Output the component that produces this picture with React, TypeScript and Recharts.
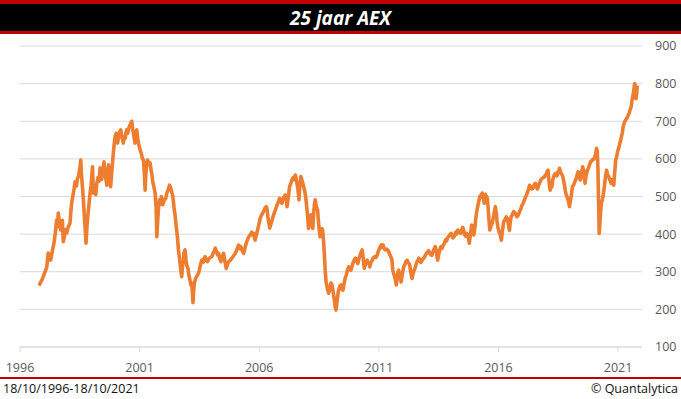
import React from "react";
import { LineChart, Line, XAxis, YAxis, CartesianGrid } from "recharts";

const FONT = "'Open Sans', 'Noto Sans', sans-serif";
const RED = "#c00000";
const ORANGE = "#ed7d31";
const GRID = "#d9d9d9";

const YEAR_TICKS = [1996, 2001, 2006, 2011, 2016, 2021];
const VALUE_TICKS = [100, 200, 300, 400, 500, 600, 700, 800, 900];

// AEX closes (year as decimal, index value)
const aex1996: [number, number][] = [
  [1996.8, 263], [1996.86, 272], [1996.93, 280], [1996.97, 287], [1997.05, 300], [1997.12, 313],
  [1997.18, 350], [1997.23, 338], [1997.28, 331], [1997.35, 355], [1997.42, 376], [1997.48, 405],
  [1997.53, 437], [1997.57, 420], [1997.6, 456], [1997.65, 430], [1997.7, 411], [1997.74, 425],
  [1997.77, 437], [1997.81, 380], [1997.86, 395], [1997.9, 412], [1997.95, 403], [1998.02, 420],
  [1998.09, 429], [1998.12, 455], [1998.16, 483], [1998.22, 505], [1998.26, 520], [1998.3, 539],
  [1998.36, 528], [1998.4, 548], [1998.44, 553], [1998.49, 570], [1998.54, 597], [1998.57, 560],
  [1998.62, 517], [1998.66, 480], [1998.69, 446], [1998.73, 410], [1998.76, 376], [1998.8, 420],
  [1998.83, 445], [1998.86, 464], [1998.9, 490], [1998.93, 509], [1998.97, 530], [1999.03, 579],
  [1999.05, 540], [1999.07, 509], [1999.12, 520], [1999.17, 505], [1999.21, 535], [1999.26, 550],
  [1999.3, 540], [1999.35, 576], [1999.38, 560], [1999.41, 545], [1999.46, 565], [1999.51, 592],
  [1999.55, 560], [1999.59, 548], [1999.63, 530], [1999.66, 560], [1999.7, 584], [1999.74, 550],
  [1999.79, 526], [1999.83, 560], [1999.87, 590], [1999.9, 615], [1999.94, 640], [1999.98, 660],
];

const aex2000: [number, number][] = [
  [2000.02, 668], [2000.05, 650], [2000.08, 642], [2000.12, 660], [2000.17, 672], [2000.21, 677],
  [2000.25, 660], [2000.29, 650], [2000.32, 642], [2000.36, 660], [2000.4, 655], [2000.43, 670],
  [2000.46, 677], [2000.5, 668], [2000.55, 682], [2000.6, 690], [2000.67, 700], [2000.71, 680],
  [2000.76, 660], [2000.81, 642], [2000.85, 660], [2000.88, 677], [2000.92, 655], [2000.96, 640],
  [2001.02, 624], [2001.07, 615], [2001.12, 600], [2001.16, 597], [2001.2, 560], [2001.23, 517],
  [2001.26, 560], [2001.3, 585], [2001.33, 597], [2001.38, 590], [2001.44, 589], [2001.48, 570],
  [2001.52, 555], [2001.55, 539], [2001.6, 525], [2001.65, 509], [2001.69, 470], [2001.72, 393],
  [2001.75, 430], [2001.79, 470], [2001.83, 491], [2001.87, 480], [2001.91, 500], [2001.97, 478],
  [2002.03, 490], [2002.09, 495], [2002.14, 509], [2002.2, 520], [2002.25, 530], [2002.28, 526],
  [2002.33, 515], [2002.39, 500], [2002.44, 470], [2002.49, 446], [2002.53, 420], [2002.58, 393],
  [2002.62, 360], [2002.66, 340], [2002.69, 323], [2002.73, 300], [2002.76, 287], [2002.8, 320],
  [2002.83, 323], [2002.85, 350], [2002.9, 358], [2002.94, 330], [2002.98, 315],
];

const aex2003: [number, number][] = [
  [2003.02, 310], [2003.06, 290], [2003.1, 280], [2003.14, 265], [2003.18, 270], [2003.21, 240],
  [2003.23, 218], [2003.26, 250], [2003.29, 270], [2003.32, 278], [2003.36, 285], [2003.41, 290],
  [2003.46, 296], [2003.5, 305], [2003.55, 320], [2003.6, 331], [2003.66, 325], [2003.7, 335],
  [2003.74, 340], [2003.79, 330], [2003.84, 327], [2003.9, 335], [2003.96, 338], [2004.02, 340],
  [2004.08, 350], [2004.12, 355], [2004.16, 363], [2004.22, 352], [2004.26, 345], [2004.3, 349],
  [2004.35, 335], [2004.4, 327], [2004.45, 340], [2004.51, 349], [2004.56, 330], [2004.62, 309],
  [2004.67, 318], [2004.72, 327], [2004.78, 330], [2004.86, 336], [2004.92, 342], [2005.0, 349],
  [2005.06, 358], [2005.1, 365], [2005.14, 371], [2005.19, 362], [2005.23, 367], [2005.29, 356],
  [2005.35, 349], [2005.4, 362], [2005.44, 372], [2005.48, 380], [2005.54, 390], [2005.58, 395],
  [2005.62, 398], [2005.68, 405], [2005.72, 398], [2005.76, 402], [2005.8, 390], [2005.83, 384],
  [2005.88, 398], [2005.93, 411],
];

const aex2006: [number, number][] = [
  [2006.0, 430], [2006.04, 442], [2006.09, 450], [2006.14, 455], [2006.18, 460], [2006.23, 468],
  [2006.29, 473], [2006.33, 465], [2006.36, 447], [2006.4, 430], [2006.44, 416], [2006.48, 425],
  [2006.53, 435], [2006.58, 447], [2006.62, 455], [2006.68, 465], [2006.74, 477], [2006.8, 485],
  [2006.85, 495], [2006.9, 490], [2006.95, 482], [2007.0, 495], [2007.05, 500], [2007.09, 504],
  [2007.13, 495], [2007.16, 473], [2007.2, 490], [2007.24, 510], [2007.27, 526], [2007.32, 535],
  [2007.37, 544], [2007.42, 550], [2007.47, 545], [2007.51, 557], [2007.55, 545], [2007.59, 530],
  [2007.62, 518], [2007.66, 491], [2007.69, 520], [2007.72, 540], [2007.74, 553], [2007.78, 545],
  [2007.82, 535], [2007.86, 526], [2007.9, 515], [2007.94, 500], [2007.97, 482], [2008.02, 450],
  [2008.06, 415], [2008.1, 435], [2008.13, 450], [2008.16, 451], [2008.2, 430], [2008.24, 415],
  [2008.28, 460], [2008.31, 480], [2008.34, 491], [2008.38, 475], [2008.44, 464], [2008.48, 430],
  [2008.51, 410], [2008.54, 393], [2008.58, 400], [2008.62, 415], [2008.65, 411], [2008.69, 380],
  [2008.72, 349], [2008.76, 300], [2008.8, 270], [2008.83, 262], [2008.87, 250], [2008.9, 243],
  [2008.93, 250], [2008.97, 262], [2009.0, 270], [2009.04, 265], [2009.07, 255], [2009.1, 243],
  [2009.14, 225], [2009.18, 205], [2009.21, 198], [2009.25, 220], [2009.3, 245], [2009.34, 255],
  [2009.37, 262],
];

const aex2009: [number, number][] = [
  [2009.42, 265], [2009.46, 255], [2009.5, 251], [2009.55, 270], [2009.6, 285], [2009.64, 291],
  [2009.69, 305], [2009.74, 313], [2009.78, 308], [2009.83, 304], [2009.88, 315], [2009.93, 325],
  [2009.98, 333], [2010.02, 336], [2010.07, 330], [2010.12, 322], [2010.17, 335], [2010.22, 345],
  [2010.26, 352], [2010.3, 358], [2010.34, 340], [2010.37, 320], [2010.39, 309], [2010.43, 318],
  [2010.47, 325], [2010.51, 331], [2010.56, 322], [2010.6, 320], [2010.62, 313], [2010.67, 325],
  [2010.72, 330], [2010.76, 336], [2010.82, 340], [2010.88, 338], [2010.93, 344], [2010.98, 355],
  [2011.02, 360], [2011.06, 367], [2011.11, 372], [2011.15, 365], [2011.18, 371], [2011.22, 362],
  [2011.27, 358], [2011.33, 360], [2011.38, 357], [2011.41, 354], [2011.46, 345], [2011.5, 340],
  [2011.55, 331], [2011.58, 305], [2011.62, 295], [2011.66, 287], [2011.7, 275], [2011.73, 265],
  [2011.77, 285], [2011.8, 300], [2011.83, 304], [2011.87, 290], [2011.9, 285], [2011.93, 273],
  [2011.97, 290],
];

const aex2012: [number, number][] = [
  [2012.0, 300], [2012.04, 313], [2012.09, 320], [2012.14, 328], [2012.18, 331], [2012.22, 325],
  [2012.26, 322], [2012.29, 318], [2012.33, 300], [2012.36, 290], [2012.39, 282], [2012.43, 295],
  [2012.48, 305], [2012.53, 313], [2012.58, 325], [2012.63, 330], [2012.67, 336], [2012.72, 330],
  [2012.76, 325], [2012.81, 331], [2012.86, 335], [2012.9, 338], [2012.95, 344], [2013.0, 350],
  [2013.04, 352], [2013.08, 356], [2013.12, 350], [2013.17, 345], [2013.22, 344], [2013.27, 355],
  [2013.31, 360], [2013.36, 367], [2013.4, 355], [2013.43, 340], [2013.46, 331], [2013.5, 345],
  [2013.55, 360], [2013.6, 367], [2013.64, 362], [2013.69, 370], [2013.74, 376], [2013.79, 385],
  [2013.83, 382], [2013.88, 391], [2013.93, 395], [2013.98, 400], [2014.02, 402], [2014.06, 395],
  [2014.1, 390], [2014.16, 395], [2014.21, 405], [2014.25, 400], [2014.3, 411], [2014.35, 408],
  [2014.41, 402], [2014.46, 410], [2014.5, 418], [2014.53, 415], [2014.57, 400], [2014.62, 395],
  [2014.67, 402], [2014.72, 395], [2014.76, 385], [2014.78, 376], [2014.82, 395], [2014.85, 410],
  [2014.88, 424], [2014.92, 415], [2014.97, 398],
];

const aex2015: [number, number][] = [
  [2015.01, 415], [2015.05, 440], [2015.08, 455], [2015.12, 470], [2015.17, 485], [2015.22, 500],
  [2015.27, 504], [2015.32, 509], [2015.36, 495], [2015.41, 482], [2015.45, 506], [2015.5, 500],
  [2015.53, 497], [2015.57, 470], [2015.6, 440], [2015.64, 411], [2015.68, 420], [2015.74, 429],
  [2015.79, 445], [2015.83, 460], [2015.87, 473], [2015.91, 455], [2015.94, 435], [2015.97, 420],
  [2016.01, 410], [2016.05, 402], [2016.09, 395], [2016.12, 384], [2016.15, 400], [2016.19, 420],
  [2016.22, 433], [2016.27, 438], [2016.33, 446], [2016.38, 440], [2016.43, 420], [2016.46, 410],
  [2016.49, 430], [2016.53, 446], [2016.58, 452], [2016.64, 460], [2016.7, 455], [2016.74, 450],
  [2016.78, 446], [2016.84, 452], [2016.88, 460], [2016.92, 464], [2016.97, 475], [2017.03, 482],
  [2017.08, 490], [2017.13, 498], [2017.17, 504], [2017.22, 512], [2017.26, 520], [2017.3, 530],
  [2017.35, 525], [2017.4, 520], [2017.44, 522], [2017.49, 530], [2017.54, 535], [2017.58, 528],
  [2017.63, 520], [2017.68, 530], [2017.73, 538], [2017.78, 545], [2017.82, 548], [2017.87, 550],
  [2017.92, 552], [2017.96, 557],
];

const aex2018: [number, number][] = [
  [2018.01, 560], [2018.04, 568], [2018.07, 570], [2018.1, 550], [2018.13, 530], [2018.16, 517],
  [2018.2, 530], [2018.23, 525], [2018.27, 544], [2018.32, 555], [2018.36, 560], [2018.41, 562],
  [2018.45, 555], [2018.5, 565], [2018.55, 575], [2018.59, 565], [2018.64, 560], [2018.69, 553],
  [2018.73, 540], [2018.76, 530], [2018.79, 517], [2018.83, 505], [2018.86, 500], [2018.89, 495],
  [2018.93, 485], [2018.97, 473], [2019.01, 490], [2019.05, 505], [2019.09, 526], [2019.14, 530],
  [2019.18, 538], [2019.23, 544], [2019.28, 555], [2019.33, 566], [2019.37, 555], [2019.42, 544],
  [2019.46, 560], [2019.52, 579], [2019.56, 570], [2019.59, 548], [2019.62, 535], [2019.66, 555],
  [2019.72, 570], [2019.76, 575], [2019.81, 585], [2019.85, 592], [2019.9, 595], [2019.94, 598],
  [2019.99, 600], [2020.03, 605], [2020.07, 615], [2020.1, 628], [2020.13, 620], [2020.16, 570],
  [2020.18, 500], [2020.2, 440], [2020.21, 402], [2020.24, 430], [2020.27, 460], [2020.3, 482],
  [2020.34, 490], [2020.38, 505], [2020.41, 517], [2020.45, 540], [2020.48, 555], [2020.52, 570],
  [2020.55, 560], [2020.58, 555], [2020.61, 553], [2020.65, 545], [2020.68, 540], [2020.71, 535],
  [2020.75, 545], [2020.79, 538], [2020.82, 530], [2020.86, 565], [2020.9, 597], [2020.94, 605],
  [2020.98, 620],
];

const aex2021: [number, number][] = [
  [2021.01, 625], [2021.04, 632], [2021.07, 640], [2021.11, 650], [2021.14, 659], [2021.18, 670],
  [2021.21, 685], [2021.25, 694], [2021.29, 700], [2021.33, 705], [2021.36, 707], [2021.4, 712],
  [2021.43, 718], [2021.46, 721], [2021.5, 730], [2021.55, 739], [2021.58, 755], [2021.61, 765],
  [2021.64, 774], [2021.68, 795], [2021.7, 800], [2021.73, 780], [2021.75, 760], [2021.78, 775],
  [2021.8, 795],
];

const series = [aex1996, aex2000, aex2003, aex2006, aex2009, aex2012, aex2015, aex2018, aex2021]
  .flat()
  .map(([t, v]) => ({ t, v }));

const tickStyle = { fill: "#595959", fontSize: 12.5, fontFamily: FONT };

export default function App() {
  return (
    <div style={{ position: "relative", width: 681, height: 399, background: "#fff", overflow: "hidden", fontFamily: FONT }}>
      <style>{`body{margin:0}`}</style>
      <div
        style={{
          position: "absolute", top: 0, left: 0, width: 681, height: 27,
          background: "#000", borderTop: `4px solid ${RED}`, borderBottom: `3px solid ${RED}`,
          display: "flex", alignItems: "center", justifyContent: "center",
          color: "#fff", fontWeight: 700, fontStyle: "italic", fontSize: 19,
        }}
      >
        25 jaar AEX
      </div>

      <div style={{ position: "absolute", top: 0, left: 0 }}>
        <LineChart width={681} height={378} data={series} margin={{ top: 46, right: 0, bottom: 6, left: 20 }}>
          <CartesianGrid vertical={false} stroke={GRID} />
          <XAxis
            dataKey="t" type="number" domain={[1996, 2022]} ticks={YEAR_TICKS} interval={0}
            allowDataOverflow height={25} tick={tickStyle}
            axisLine={{ stroke: GRID }} tickLine={{ stroke: GRID }} tickSize={5} tickMargin={11}
          />
          <YAxis
            orientation="right" domain={[100, 900]} ticks={VALUE_TICKS} interval={0} width={39}
            tick={{ ...tickStyle, textAnchor: "start" }} axisLine={false} tickLine={false} tickSize={0} tickMargin={13}
          />
          <Line
            type="linear" dataKey="v" stroke={ORANGE} strokeWidth={3.6} dot={false}
            strokeLinejoin="round" isAnimationActive={false}
          />
        </LineChart>
      </div>

      <div style={{ position: "absolute", top: 377, left: 0, width: 681, height: 2, background: RED }} />
      <div style={{ position: "absolute", top: 381, left: 3, fontSize: 12.5, lineHeight: "16px", color: "#111" }}>
        18/10/1996-18/10/2021
      </div>
      <div style={{ position: "absolute", top: 381, right: 3, fontSize: 12.5, lineHeight: "16px", color: "#111" }}>
        © Quantalytica
      </div>
    </div>
  );
}
